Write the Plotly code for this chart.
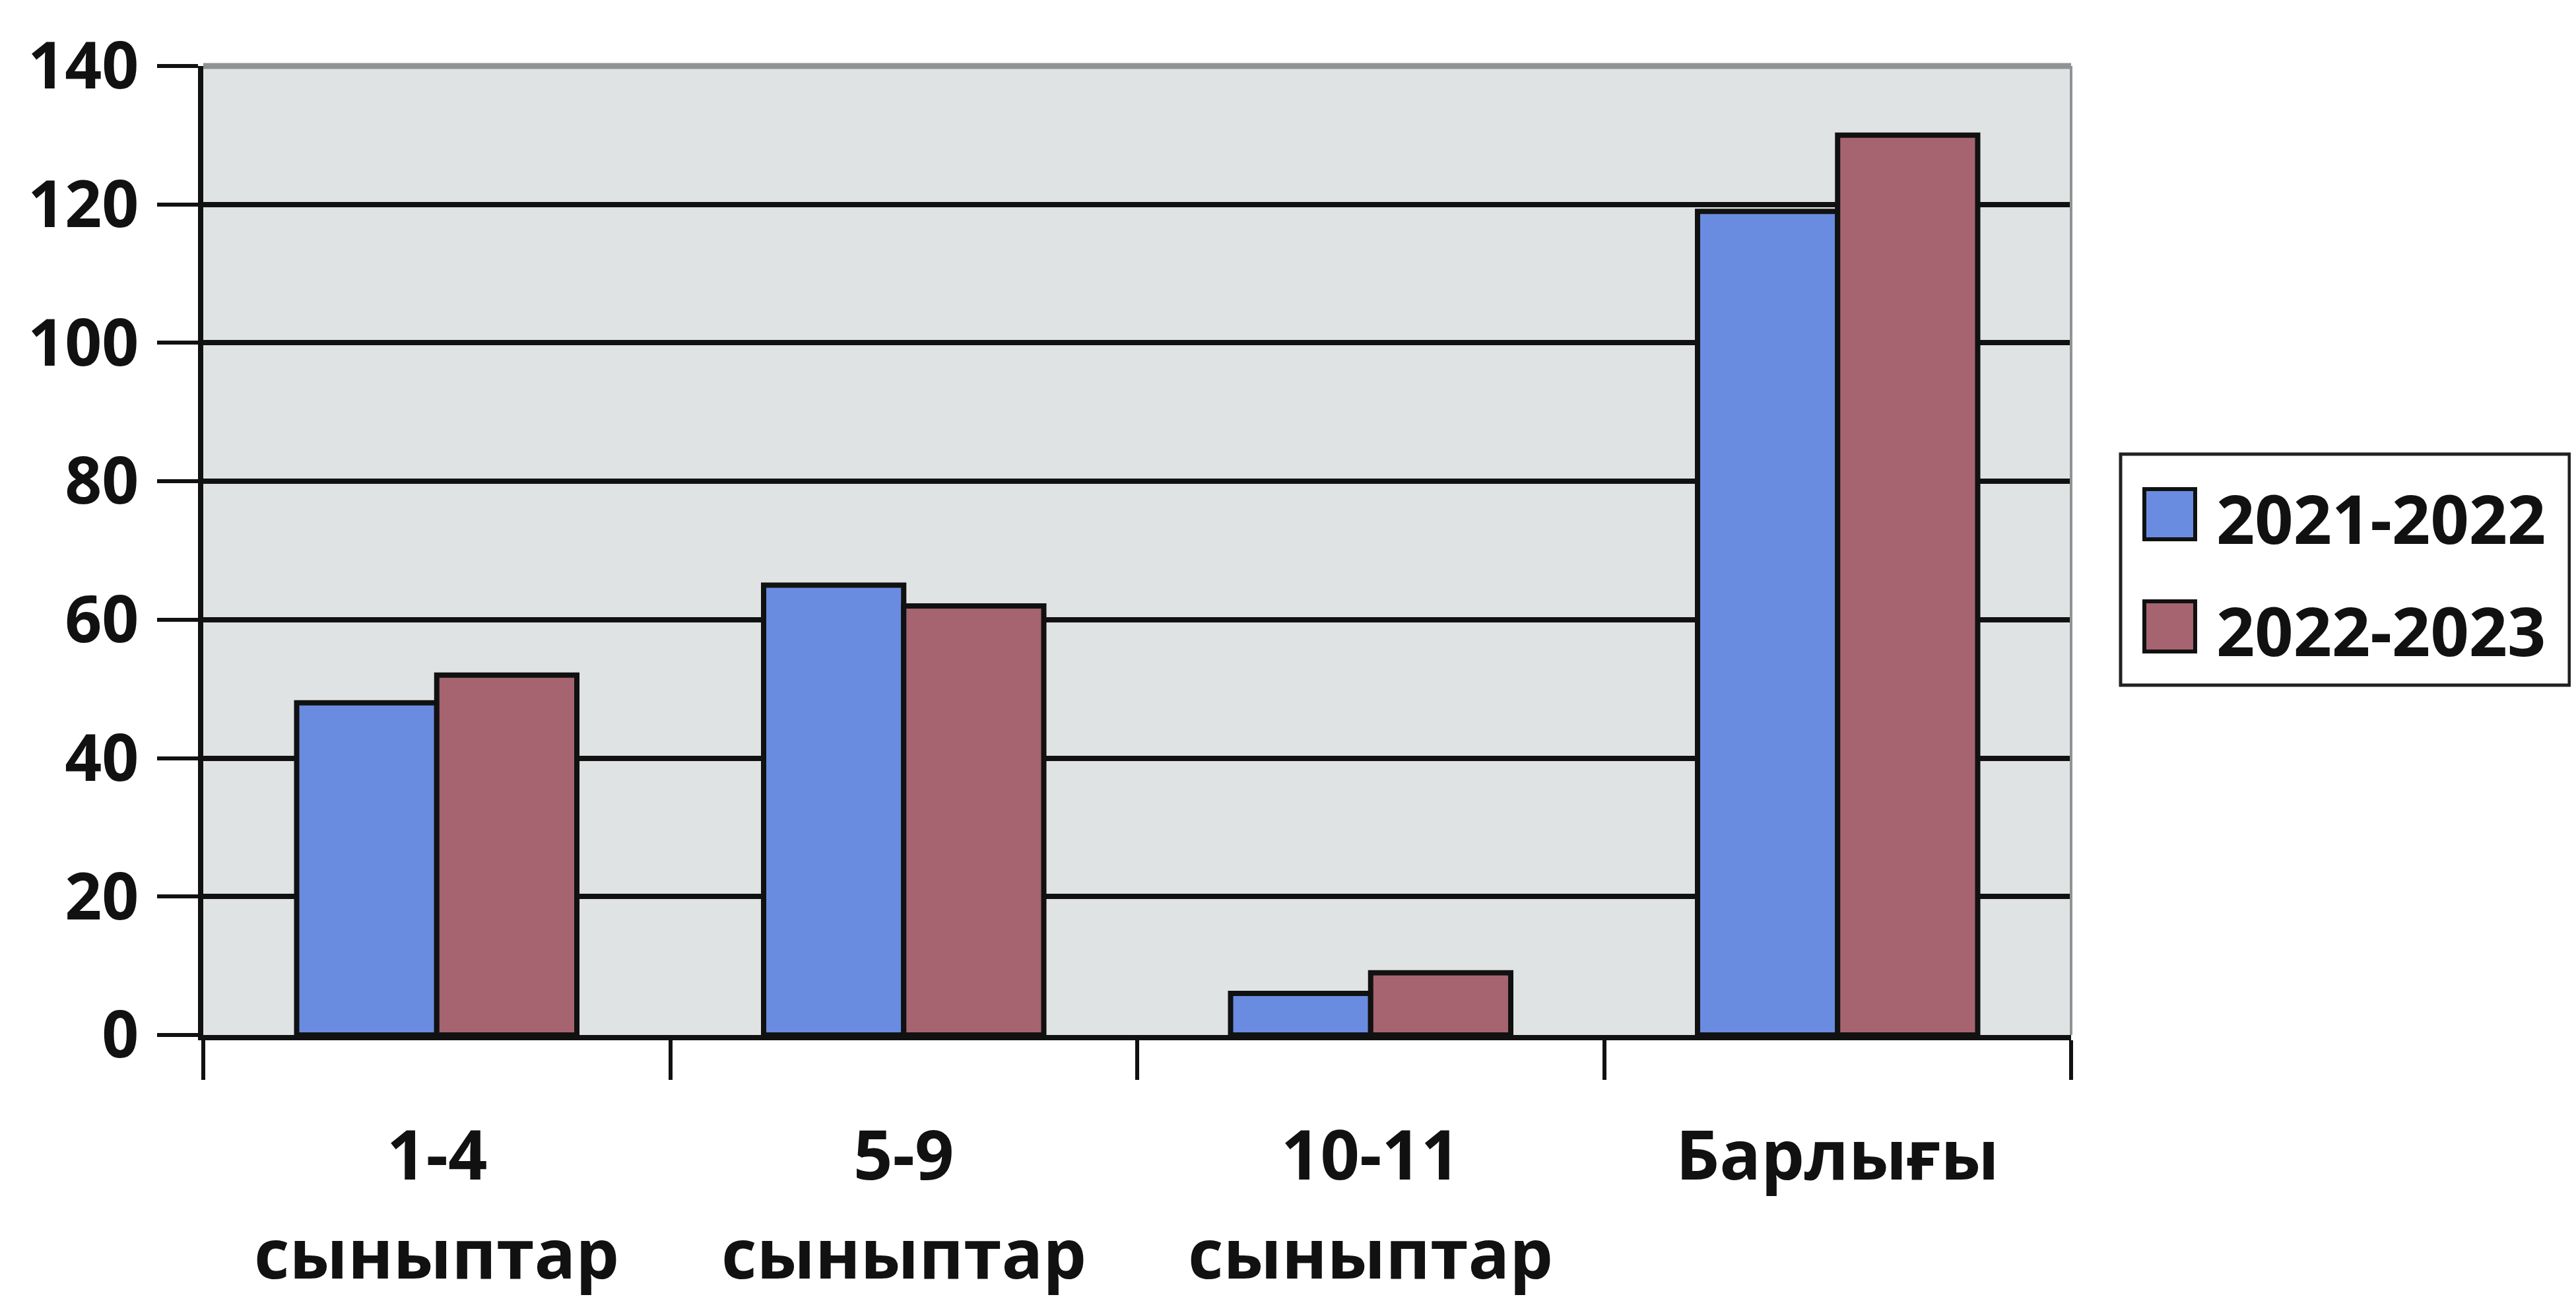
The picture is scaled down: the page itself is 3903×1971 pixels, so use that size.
import plotly.graph_objects as go

categories = ["1-4 сыныптар", "5-9 сыныптар", "10-11 сыныптар", "Барлығы"]
label_line1 = ["1-4", "5-9", "10-11", "Барлығы"]
label_line2 = ["сыныптар", "сыныптар", "сыныптар", ""]
series_names = ["2021-2022", "2022-2023"]
values_2021_2022 = [48, 65, 6, 119]
values_2022_2023 = [52, 62, 9, 130]
y_tick_vals = [0, 20, 40, 60, 80, 100, 120, 140]

W, H = 3903, 1971
L, R_EDGE, T, B_EDGE = 300, 3130, 92, 1560
PW, PH = R_EDGE - L, B_EDGE - T


def px(X):
    return (X - L) / PW


def py(Y):
    return (B_EDGE - Y) / PH


colors = ["#6a8ce0", "#a5646f"]
FONT = "Open Sans"
INK = "#111111"

fig = go.Figure()
for name, vals, col in zip(series_names, [values_2021_2022, values_2022_2023], colors):
    fig.add_trace(go.Bar(
        x=categories, y=vals, name=name,
        marker=dict(color=col, line=dict(color=INK, width=8)),
        showlegend=False,
    ))

shapes = []
annotations = []

# plot area border (top and right, grey)
shapes.append(dict(type="line", xref="paper", yref="paper", x0=0, x1=1, y0=1, y1=1,
                   line=dict(color="#8f9393", width=9), layer="above"))
shapes.append(dict(type="line", xref="paper", yref="paper", x0=1, x1=1, y0=0, y1=1,
                   line=dict(color="#8f9393", width=4), layer="above"))

# category labels (two rows)
for cat, l1, l2 in zip(categories, label_line1, label_line2):
    annotations.append(dict(x=cat, xref="x", y=py(1738), yref="paper", text=l1,
                            showarrow=False, yanchor="middle",
                            font=dict(family=FONT, size=104, color=INK, weight="bold")))
    if l2:
        annotations.append(dict(x=cat, xref="x", y=py(1888), yref="paper", text=l2,
                                showarrow=False, yanchor="middle",
                                font=dict(family=FONT, size=104, color=INK, weight="bold")))

# custom legend
shapes.append(dict(type="rect", xref="paper", yref="paper",
                   x0=px(3205), x1=px(3885), y0=py(1030), y1=py(680),
                   line=dict(color="#222222", width=5), fillcolor="white"))
for i, (name, col) in enumerate(zip(series_names, colors)):
    yc = [771, 941][i]
    shapes.append(dict(type="rect", xref="paper", yref="paper",
                       x0=px(3241), x1=px(3318), y0=py(yc + 38), y1=py(yc - 38),
                       line=dict(color=INK, width=6), fillcolor=col))
    annotations.append(dict(x=px(3348), xref="paper", y=py(yc + 5), yref="paper", text=name,
                            showarrow=False, xanchor="left", yanchor="middle",
                            font=dict(family=FONT, size=102, color=INK, weight="bold")))

fig.update_layout(
    width=W, height=H,
    margin=dict(l=L, r=W - R_EDGE, t=T, b=H - B_EDGE, pad=0),
    paper_bgcolor="white",
    plot_bgcolor="#e0e3e3",
    barmode="group",
    bargap=0.4,
    bargroupgap=0,
    showlegend=False,
    shapes=shapes,
    annotations=annotations,
    font=dict(family=FONT, color=INK),
)
fig.update_xaxes(
    showticklabels=False,
    ticks="outside", ticklen=60, tickwidth=6, tickcolor=INK,
    tickson="boundaries",
    showline=True, linecolor=INK, linewidth=8,
    showgrid=False,
)
fig.update_yaxes(
    range=[0, 140], tickvals=y_tick_vals,
    ticks="outside", ticklen=62, tickwidth=6, tickcolor=INK,
    showline=True, linecolor=INK, linewidth=8,
    showgrid=True, gridcolor=INK, gridwidth=8,
    zeroline=False,
    tickfont=dict(family=FONT, size=98, color=INK, weight="bold"),
    ticklabelstandoff=8,
)

fig.write_html("out.html")
